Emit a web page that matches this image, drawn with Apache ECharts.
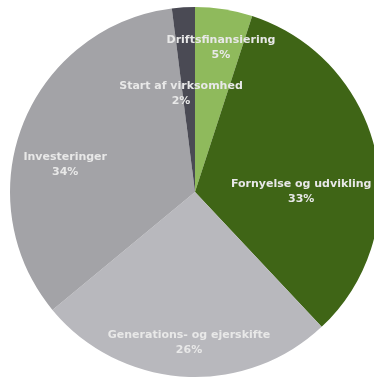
<!DOCTYPE html>
<html>
<head>
<meta charset="utf-8">
<script src="https://cdn.jsdelivr.net/npm/echarts@6/dist/echarts.min.js"></script>
<style>
  html, body { margin: 0; padding: 0; background: #ffffff; }
  #chart { width: 374px; height: 379px; }
</style>
</head>
<body>
<div id="chart"></div>
<script>
// Fordeling af formål (procent), clockwise from 12 o'clock
const categories = [
  'Driftsfinansiering',
  'Fornyelse og udvikling',
  'Generations- og ejerskifte',
  'Investeringer',
  'Start af virksomhed'
];
const shares = [5, 33, 26, 34, 2];

// Slice colours, in the same order as the categories
const sliceColors = ['#8fba5c', '#3f6516', '#b8b8bd', '#a3a3a7', '#4a4a54'];

// Nudges (px) applied to each label from its default inside position
const labelShift = [
  [11, -50],
  [13, 20],
  [0, 55],
  [-41, 8],
  [-8, -3]
];

const chart = echarts.init(document.getElementById('chart'), null, { renderer: 'canvas' });

chart.setOption({
  animation: false,
  backgroundColor: '#ffffff',
  series: [{
    type: 'pie',
    center: [195, 192],
    radius: [0, 185],
    startAngle: 90,
    clockwise: true,
    avoidLabelOverlap: false,
    silent: true,
    itemStyle: { borderWidth: 0 },
    label: {
      show: true,
      position: 'inside',
      formatter: function (p) { return p.name + '\n' + p.value + '%'; },
      color: '#e8e8e8',
      fontFamily: 'DejaVu Sans',
      fontWeight: 'bold',
      fontSize: 11,
      lineHeight: 15,
      align: 'center'
    },
    labelLine: { show: false },
    labelLayout: function (params) {
      const s = labelShift[params.dataIndex];
      return { dx: s[0], dy: s[1] };
    },
    data: categories.map(function (name, i) {
      return { name: name, value: shares[i], itemStyle: { color: sliceColors[i] } };
    })
  }]
});
</script>
</body>
</html>
